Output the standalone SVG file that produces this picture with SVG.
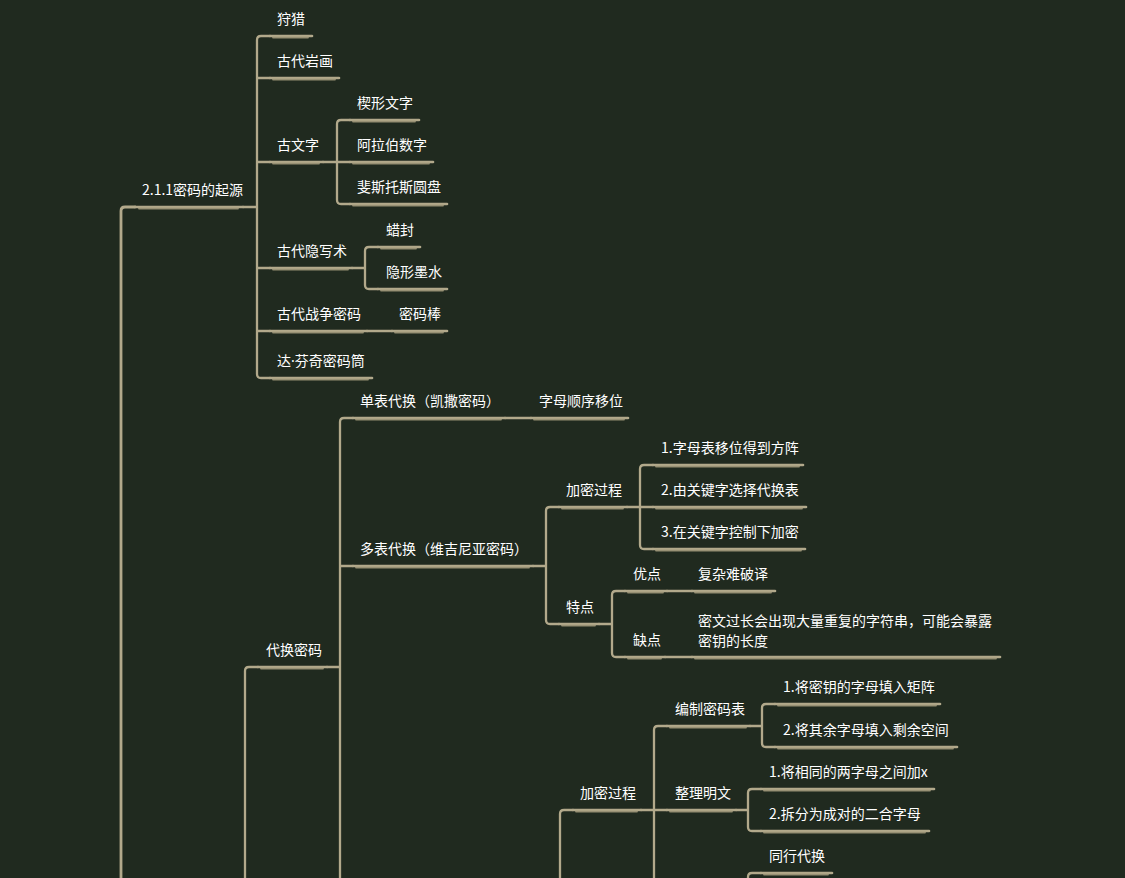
<svg xmlns="http://www.w3.org/2000/svg" width="1125" height="878" viewBox="0 0 1125 878">
<style>
.bg{fill:#202a1f}
.c{fill:none;stroke:#b2a98b;stroke-width:2.3;stroke-linecap:round;stroke-linejoin:round}
.u{fill:none;stroke:#b2a98b;stroke-width:2.6;stroke-linecap:round}
.u2{fill:none;stroke:#a79e80;stroke-width:1.8;stroke-linecap:round;opacity:.85}
text{font-family:"Noto Sans CJK SC","Noto Sans",sans-serif;font-size:14px;fill:#ffffff}
.dot{font-family:"Noto Sans",sans-serif}
</style>
<rect class="bg" x="0" y="0" width="1125" height="878"/>
<g id="connectors">
<path class="c" style="stroke-width:2.8" d="M121,878 V211 Q121,207 125,207 H135"/>
<path class="c" d="M243,207 H257 M257,207 V40 Q257,36 261,36 H270 M257,207 V374 Q257,378 261,378 H270 M257,78 H270 M257,162 H270 M257,268 H270 M257,331 H270"/>
<path class="c" d="M323,162 H350 M337,162 V124 Q337,120 341,120 H350 M337,162 V200 Q337,204 341,204 H350"/>
<path class="c" d="M352,268 H365 M365,268 V251 Q365,247 369,247 H378 M365,268 V285 Q365,289 369,289 H378"/>
<path class="c" d="M367,331 H392"/>
<path class="c" d="M245,878 V671 Q245,667 249,667 H258"/>
<path class="c" d="M327,667 H340 M340,878 V422 Q340,418 344,418 H353 M340,566 H353"/>
<path class="c" d="M505,418 H531"/>
<path class="c" d="M533,566 H546 M546,566 V511 Q546,507 550,507 H559 M546,566 V620 Q546,624 550,624 H559"/>
<path class="c" d="M627,507 H653 M640,507 V469 Q640,465 644,465 H653 M640,507 V545 Q640,549 644,549 H653"/>
<path class="c" d="M599,624 H612 M612,624 V595 Q612,591 616,591 H625 M612,624 V653 Q612,657 616,657 H625"/>
<path class="c" d="M667,591 H692 M665,657 H692"/>
<path class="c" d="M560,878 V814 Q560,810 564,810 H573"/>
<path class="c" d="M641,810 H667 M654,810 V730 Q654,726 658,726 H667 M654,810 V878"/>
<path class="c" d="M750,726 H762 M762,726 V708 Q762,704 766,704 H775 M762,726 V743 Q762,747 766,747 H775"/>
<path class="c" d="M736,810 H748 M748,810 V793 Q748,789 752,789 H761 M748,810 V827 Q748,831 752,831 H761"/>
<path class="c" d="M748,878 V877 Q748,873 752,873 H761"/>
</g>
<g id="n-origin"><path class="u" d="M135,207 H243"/><path class="u2" d="M139,208.5 H238"/><text x="142" y="195">2.1.1密码的起源</text></g>
<g id="n-hunt"><path class="u" d="M270,36 H312"/><path class="u2" d="M273,37.5 H308"/><text x="277" y="24">狩猎</text></g>
<g id="n-rock"><path class="u" d="M270,78 H339"/><path class="u2" d="M273,79.5 H335"/><text x="277" y="66">古代岩画</text></g>
<g id="n-script"><path class="u" d="M270,162 H323"/><path class="u2" d="M273,163.5 H319"/><text x="277" y="150">古文字</text></g>
<g id="n-cuneiform"><path class="u" d="M350,120 H419"/><path class="u2" d="M353,121.5 H415"/><text x="357" y="108">楔形文字</text></g>
<g id="n-arabic"><path class="u" d="M350,162 H433"/><path class="u2" d="M353,163.5 H429"/><text x="357" y="150">阿拉伯数字</text></g>
<g id="n-phaistos"><path class="u" d="M350,204 H447"/><path class="u2" d="M353,205.5 H443"/><text x="357" y="192">斐斯托斯圆盘</text></g>
<g id="n-stego"><path class="u" d="M270,268 H352"/><path class="u2" d="M273,269.5 H348"/><text x="277" y="256">古代隐写术</text></g>
<g id="n-wax"><path class="u" d="M378,247 H420"/><path class="u2" d="M381,248.5 H416"/><text x="386" y="235">蜡封</text></g>
<g id="n-ink"><path class="u" d="M378,289 H447"/><path class="u2" d="M381,290.5 H443"/><text x="386" y="277">隐形墨水</text></g>
<g id="n-war"><path class="u" d="M270,331 H367"/><path class="u2" d="M273,332.5 H363"/><text x="277" y="319">古代战争密码</text></g>
<g id="n-scytale"><path class="u" d="M392,331 H447"/><path class="u2" d="M395,332.5 H443"/><text x="399" y="319">密码棒</text></g>
<g id="n-davinci"><path class="u" d="M270,378 H372"/><path class="u2" d="M273,379.5 H368"/><text x="277" y="366">达<tspan class="dot">·</tspan>芬奇密码筒</text></g>
<g id="n-subst"><path class="u" d="M258,667 H327"/><path class="u2" d="M261,668.5 H323"/><text x="266" y="655">代换密码</text></g>
<g id="n-mono"><path class="u" d="M353,418 H505"/><path class="u2" d="M356,419.5 H501"/><text x="360" y="406">单表代换（凯撒密码）</text></g>
<g id="n-shift"><path class="u" d="M531,418 H628"/><path class="u2" d="M534,419.5 H624"/><text x="539" y="406">字母顺序移位</text></g>
<g id="n-poly"><path class="u" d="M353,566 H533"/><path class="u2" d="M356,567.5 H529"/><text x="360" y="554">多表代换（维吉尼亚密码）</text></g>
<g id="n-enc1"><path class="u" d="M559,507 H627"/><path class="u2" d="M562,508.5 H623"/><text x="566" y="495">加密过程</text></g>
<g id="n-e1"><path class="u" d="M653,465 H803"/><path class="u2" d="M656,466.5 H799"/><text x="661" y="453">1.字母表移位得到方阵</text></g>
<g id="n-e2"><path class="u" d="M653,507 H806"/><path class="u2" d="M656,508.5 H802"/><text x="661" y="495">2.由关键字选择代换表</text></g>
<g id="n-e3"><path class="u" d="M653,549 H805"/><path class="u2" d="M656,550.5 H801"/><text x="661" y="537">3.在关键字控制下加密</text></g>
<g id="n-feat"><path class="u" d="M559,624 H599"/><path class="u2" d="M562,625.5 H595"/><text x="566" y="612">特点</text></g>
<g id="n-pro"><path class="u" d="M625,591 H667"/><path class="u2" d="M628,592.5 H663"/><text x="633" y="579">优点</text></g>
<g id="n-pro1"><path class="u" d="M692,591 H775"/><path class="u2" d="M695,592.5 H771"/><text x="698" y="579">复杂难破译</text></g>
<g id="n-con"><path class="u" d="M625,657 H665"/><path class="u2" d="M628,658.5 H661"/><text x="633" y="645">缺点</text></g>
<g id="n-con1"><path class="u" d="M692,657 H1000"/><path class="u2" d="M695,658.5 H996"/><text x="698" y="626">密文过长会出现大量重复的字符串，可能会暴露</text><text x="698" y="646">密钥的长度</text></g>
<g id="n-enc2"><path class="u" d="M573,810 H641"/><path class="u2" d="M576,811.5 H637"/><text x="580" y="798">加密过程</text></g>
<g id="n-table"><path class="u" d="M667,726 H750"/><path class="u2" d="M670,727.5 H746"/><text x="675" y="714">编制密码表</text></g>
<g id="n-t1"><path class="u" d="M775,704 H940"/><path class="u2" d="M778,705.5 H936"/><text x="783" y="692">1.将密钥的字母填入矩阵</text></g>
<g id="n-t2"><path class="u" d="M775,747 H957"/><path class="u2" d="M778,748.5 H953"/><text x="783" y="735">2.将其余字母填入剩余空间</text></g>
<g id="n-plain"><path class="u" d="M667,810 H736"/><path class="u2" d="M670,811.5 H732"/><text x="675" y="798">整理明文</text></g>
<g id="n-p1"><path class="u" d="M761,789 H934"/><path class="u2" d="M764,790.5 H930"/><text x="769" y="777">1.将相同的两字母之间加x</text></g>
<g id="n-p2"><path class="u" d="M761,831 H929"/><path class="u2" d="M764,832.5 H925"/><text x="769" y="819">2.拆分为成对的二合字母</text></g>
<g id="n-row"><path class="u" d="M761,873 H832"/><path class="u2" d="M764,874.5 H828"/><text x="769" y="861">同行代换</text></g>
</svg>
